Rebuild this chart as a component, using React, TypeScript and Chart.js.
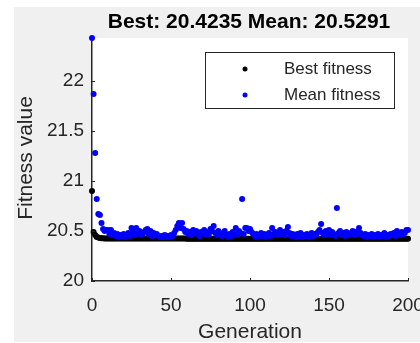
import { useEffect, useRef } from "react";
import { Chart, registerables } from "chart.js";

Chart.register(...registerables);

const titleText = "Best: 20.4235 Mean: 20.5291";
const xAxisLabel = "Generation";
const yAxisLabel = "Fitness value";
const seriesNames = ["Best fitness", "Mean fitness"];
const seriesColors = ["#000000", "#0000ff"];
const xTicks = [0, 50, 100, 150, 200];
const yTicks = [20, 20.5, 21, 21.5, 22];
const xRange = [0, 200];
const yRange = [20, 22.43];

const bestFitness = [
  20.9, 20.49, 20.46, 20.44, 20.435, 20.43, 20.428, 20.427, 20.426, 20.426,
  20.425, 20.425, 20.425, 20.425, 20.425, 20.425, 20.425, 20.425, 20.425, 20.425,
  20.425, 20.425, 20.425, 20.425, 20.425, 20.425, 20.425, 20.425, 20.425, 20.425,
  20.424, 20.424, 20.424, 20.424, 20.424, 20.424, 20.424, 20.424, 20.424, 20.424,
  20.424, 20.424, 20.424, 20.424, 20.424, 20.424, 20.424, 20.424, 20.424, 20.424,
  20.424, 20.424, 20.424, 20.424, 20.424, 20.424, 20.424, 20.424, 20.424, 20.424,
  20.4235, 20.4235, 20.4235, 20.4235, 20.4235, 20.4235, 20.4235, 20.4235, 20.4235, 20.4235,
  20.4235, 20.4235, 20.4235, 20.4235, 20.4235, 20.4235, 20.4235, 20.4235, 20.4235, 20.4235,
  20.4235, 20.4235, 20.4235, 20.4235, 20.4235, 20.4235, 20.4235, 20.4235, 20.4235, 20.4235,
  20.4235, 20.4235, 20.4235, 20.4235, 20.4235, 20.4235, 20.4235, 20.4235, 20.4235, 20.4235,
  20.4235, 20.4235, 20.4235, 20.4235, 20.4235, 20.4235, 20.4235, 20.4235, 20.4235, 20.4235,
  20.4235, 20.4235, 20.4235, 20.4235, 20.4235, 20.4235, 20.4235, 20.4235, 20.4235, 20.4235,
  20.4235, 20.4235, 20.4235, 20.4235, 20.4235, 20.4235, 20.4235, 20.4235, 20.4235, 20.4235,
  20.4235, 20.4235, 20.4235, 20.4235, 20.4235, 20.4235, 20.4235, 20.4235, 20.4235, 20.4235,
  20.4235, 20.4235, 20.4235, 20.4235, 20.4235, 20.4235, 20.4235, 20.4235, 20.4235, 20.4235,
  20.4235, 20.4235, 20.4235, 20.4235, 20.4235, 20.4235, 20.4235, 20.4235, 20.4235, 20.4235,
  20.4235, 20.4235, 20.4235, 20.4235, 20.4235, 20.4235, 20.4235, 20.4235, 20.4235, 20.4235,
  20.4235, 20.4235, 20.4235, 20.4235, 20.4235, 20.4235, 20.4235, 20.4235, 20.4235, 20.4235,
  20.4235, 20.4235, 20.4235, 20.4235, 20.4235, 20.4235, 20.4235, 20.4235, 20.4235, 20.4235,
  20.4235, 20.4235, 20.4235, 20.4235, 20.4235, 20.4235, 20.4235, 20.4235, 20.4235, 20.4235,
  20.4235,
];

const meanFitness = [
  22.43, 21.87, 21.28, 20.82, 20.67, 20.66, 20.58, 20.52, 20.5, 20.51,
  20.51, 20.47, 20.51, 20.46, 20.48, 20.45, 20.47, 20.44, 20.46, 20.45,
  20.47, 20.44, 20.46, 20.48, 20.45, 20.53, 20.49, 20.46, 20.53, 20.48,
  20.5, 20.46, 20.47, 20.49, 20.51, 20.52, 20.47, 20.5, 20.45, 20.48,
  20.46, 20.47, 20.45, 20.44, 20.45, 20.44, 20.46, 20.44, 20.45, 20.44,
  20.46, 20.45, 20.48, 20.51, 20.55, 20.58, 20.53, 20.58, 20.52, 20.49,
  20.5, 20.47, 20.49, 20.46, 20.51, 20.48, 20.5, 20.47, 20.45, 20.49,
  20.48, 20.51, 20.46, 20.49, 20.47, 20.52, 20.5, 20.55, 20.48, 20.46,
  20.5, 20.48, 20.45, 20.47, 20.5, 20.46, 20.44, 20.47, 20.45, 20.49,
  20.47, 20.53, 20.46, 20.5, 20.48, 20.82, 20.47, 20.53, 20.53, 20.5,
  20.52, 20.49, 20.47, 20.45, 20.47, 20.44, 20.46, 20.48, 20.45, 20.47,
  20.44, 20.46, 20.48, 20.45, 20.53, 20.47, 20.49, 20.46, 20.48, 20.51,
  20.47, 20.49, 20.46, 20.5, 20.54, 20.48, 20.45, 20.47, 20.46, 20.44,
  20.47, 20.45, 20.48, 20.44, 20.46, 20.45, 20.47, 20.44, 20.46, 20.48,
  20.45, 20.47, 20.46, 20.49, 20.51, 20.57, 20.48, 20.46, 20.5, 20.47,
  20.51, 20.46, 20.49, 20.47, 20.45, 20.73, 20.48, 20.5, 20.46, 20.48,
  20.45, 20.49, 20.47, 20.46, 20.48, 20.5, 20.46, 20.49, 20.47, 20.53,
  20.48, 20.46, 20.45, 20.47, 20.44, 20.46, 20.45, 20.47, 20.44, 20.46,
  20.45, 20.47, 20.44, 20.46, 20.45, 20.48, 20.44, 20.46, 20.45, 20.47,
  20.46, 20.48, 20.45, 20.5, 20.47, 20.46, 20.49, 20.47, 20.48, 20.51,
  20.51,
];

const FONT = "'Liberation Sans', Arial, Helvetica, sans-serif";
const AXIS_COLOR = "#262626";

const figurePlugin = {
  id: "figureDecor",
  beforeDraw(chart: any) {
    const { ctx, chartArea } = chart;
    ctx.save();
    ctx.fillStyle = "#ffffff";
    ctx.fillRect(0, 0, chart.width, chart.height);
    ctx.fillStyle = "#f0f0f0";
    ctx.fillRect(14, 7, chart.width - 14, 335);
    ctx.fillStyle = "#ffffff";
    ctx.fillRect(chartArea.left, chartArea.top, chartArea.right - chartArea.left, chartArea.bottom - chartArea.top);
    ctx.restore();
  },
  afterDraw(chart: any) {
    const { ctx, chartArea } = chart;
    const xs = chart.scales.x;
    const ys = chart.scales.y;
    ctx.save();
    // inner ticks
    ctx.strokeStyle = AXIS_COLOR;
    ctx.lineWidth = 1;
    ctx.beginPath();
    for (const v of xTicks) {
      const px = Math.round(xs.getPixelForValue(v)) + 0.5;
      ctx.moveTo(px, chartArea.bottom);
      ctx.lineTo(px, chartArea.bottom - 3);
    }
    for (const v of yTicks) {
      const py = Math.round(ys.getPixelForValue(v)) + 0.5;
      ctx.moveTo(chartArea.left, py);
      ctx.lineTo(chartArea.left + 3, py);
    }
    ctx.stroke();

    // title
    ctx.fillStyle = "#000000";
    ctx.font = `bold 21px ${FONT}`;
    ctx.textAlign = "center";
    ctx.textBaseline = "middle";
    ctx.fillText(titleText, 249, 22);

    // axis labels
    ctx.fillStyle = AXIS_COLOR;
    ctx.font = `21px ${FONT}`;
    ctx.fillText(xAxisLabel, (chartArea.left + chartArea.right) / 2, 332);
    ctx.save();
    ctx.translate(26, 158);
    ctx.rotate(-Math.PI / 2);
    ctx.fillText(yAxisLabel, 0, 0);
    ctx.restore();

    // legend
    const lx = 205, ly = 52, lw = 189, lh = 56;
    ctx.fillStyle = "#ffffff";
    ctx.fillRect(lx, ly, lw, lh);
    ctx.strokeStyle = AXIS_COLOR;
    ctx.lineWidth = 1;
    ctx.strokeRect(lx + 0.5, ly + 0.5, lw, lh);
    ctx.font = `17px ${FONT}`;
    ctx.textAlign = "left";
    ctx.textBaseline = "middle";
    seriesNames.forEach((name, i) => {
      const cy = 69 + i * 26;
      ctx.fillStyle = seriesColors[i];
      ctx.beginPath();
      ctx.arc(245, cy, 2.5, 0, Math.PI * 2);
      ctx.fill();
      ctx.fillStyle = AXIS_COLOR;
      ctx.fillText(name, 284, cy);
    });
    ctx.restore();
  },
};

export default function App() {
  const canvasRef = useRef<HTMLCanvasElement | null>(null);

  useEffect(() => {
    document.body.style.margin = "0";
    const canvas = canvasRef.current;
    if (!canvas) return;
    const chart = new Chart(canvas, {
      type: "scatter",
      data: {
        datasets: [
          {
            label: seriesNames[0],
            data: bestFitness.map((v, i) => ({ x: i, y: v })),
            backgroundColor: seriesColors[0],
            borderWidth: 0,
            pointRadius: 3,
            order: 2,
            clip: false as any,
          },
          {
            label: seriesNames[1],
            data: meanFitness.map((v, i) => ({ x: i, y: v })),
            backgroundColor: seriesColors[1],
            borderWidth: 0,
            pointRadius: 3,
            order: 1,
            clip: false as any,
          },
        ],
      },
      options: {
        animation: false,
        responsive: false,
        devicePixelRatio: 1,
        events: [],
        layout: { padding: { left: 0, top: 38, right: 12, bottom: 0 } },
        plugins: { legend: { display: false }, title: { display: false }, tooltip: { enabled: false } },
        scales: {
          x: {
            type: "linear",
            min: xRange[0],
            max: xRange[1],
            grid: { display: false, drawTicks: false },
            border: { display: true, color: AXIS_COLOR, width: 1.5 },
            afterBuildTicks: (s: any) => {
              s.ticks = xTicks.map((v) => ({ value: v }));
            },
            afterFit: (s: any) => {
              s.height = 62;
              s.paddingLeft = 0;
              s.paddingRight = 0;
            },
            ticks: {
              color: AXIS_COLOR,
              font: { family: FONT, size: 19 },
              padding: 13,
              maxRotation: 0,
              autoSkip: false,
              callback: (v: any) => String(v),
            },
          },
          y: {
            type: "linear",
            min: yRange[0],
            max: yRange[1],
            grid: { display: false, drawTicks: false },
            border: { display: true, color: AXIS_COLOR, width: 1.5 },
            afterBuildTicks: (s: any) => {
              s.ticks = yTicks.map((v) => ({ value: v }));
            },
            afterFit: (s: any) => {
              s.width = 92;
              s.paddingTop = 0;
              s.paddingBottom = 0;
            },
            ticks: {
              color: AXIS_COLOR,
              font: { family: FONT, size: 19 },
              padding: 8,
              autoSkip: false,
              callback: (v: any) => String(v),
            },
          },
        },
      },
      plugins: [figurePlugin],
    });
    return () => chart.destroy();
  }, []);

  return (
    <div style={{ width: 420, height: 343 }}>
      <canvas ref={canvasRef} width={420} height={343} style={{ display: "block" }} />
    </div>
  );
}
